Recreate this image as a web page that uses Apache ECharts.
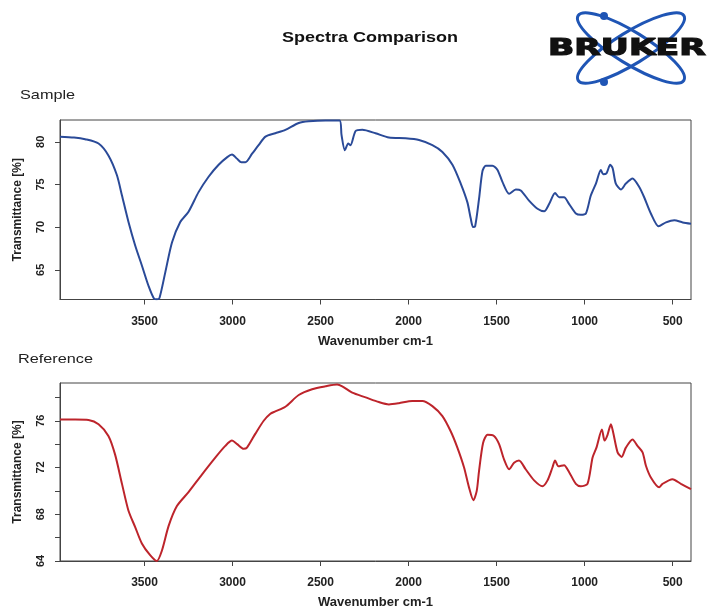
<!DOCTYPE html>
<html><head><meta charset="utf-8">
<script src="https://cdn.jsdelivr.net/npm/echarts@6/dist/echarts.min.js"></script>
<style>html,body{margin:0;padding:0;background:#fff}#c{width:707px;height:610px}</style>
</head><body><div id="c"></div>
<script>
// Sample spectrum (wavenumber cm-1, transmittance %)
const wnSample = [3980,3900,3837,3761,3705,3657,3628,3591,3553,3515,3477,3445,3430,3415,3382,3344,3297,3250,3193,3136,3079,3030,3003,2974,2950,2927,2889,2852,2813,2757,2700,2624,2567,2472,2392,2381,2362,2343,2330,2301,2263,2188,2112,2017,1941,1865,1808,1751,1704,1666,1647,1634,1622,1600,1581,1562,1524,1495,1467,1429,1391,1363,1316,1268,1230,1202,1168,1145,1117,1088,1050,1022,993,965,936,908,895,876,855,841,823,794,766,728,690,662,624,580,538,491,443,396];
const tSample = [80.6,80.5,80.3,79.8,78.4,76.1,73.7,70.6,67.85,65.5,63.1,61.6,61.55,61.7,64.7,68.2,70.6,71.8,74.1,75.9,77.3,78.2,78.5,78.0,77.6,77.6,78.6,79.6,80.6,81.0,81.4,82.2,82.4,82.5,82.5,80.8,79.0,79.8,79.6,81.26,81.4,81.0,80.5,80.4,80.2,79.6,78.8,77.3,75.1,72.9,71.0,70.0,70.1,73.3,76.5,77.2,77.2,76.7,75.3,73.9,74.4,74.3,73.1,72.15,71.85,72.7,74.0,73.5,73.5,72.7,71.6,71.45,71.6,73.7,75.1,76.7,76.2,76.3,77.3,76.9,75.1,74.4,75.1,75.7,74.7,73.5,71.6,70.1,70.55,70.8,70.55,70.4];
// Reference spectrum
const wnRef = [3980,3894,3818,3761,3705,3667,3628,3591,3553,3515,3468,3430,3401,3363,3316,3250,3174,3098,3041,3003,2974,2937,2918,2870,2823,2785,2757,2700,2624,2548,2472,2406,2377,2320,2244,2169,2112,2055,1979,1922,1865,1808,1761,1723,1685,1657,1632,1613,1600,1577,1552,1515,1486,1458,1429,1401,1373,1335,1287,1240,1211,1183,1168,1149,1117,1088,1050,1022,984,955,933,902,887,870,851,838,813,790,766,728,700,671,652,624,577,558,501,453,396];
const tRef = [76.1,76.1,76.06,75.7,74.7,73.1,70.6,68.3,66.9,65.5,64.5,64.0,64.9,67.0,68.7,69.9,71.4,72.85,73.85,74.3,74.0,73.6,73.7,74.9,76.0,76.6,76.8,77.2,78.2,78.7,78.95,79.1,78.95,78.4,78.0,77.6,77.4,77.5,77.7,77.7,77.25,76.4,75.1,73.7,72.0,70.3,69.2,70.0,71.7,74.1,74.8,74.7,74.0,72.7,71.85,72.4,72.6,71.85,70.9,70.4,70.9,72.0,72.6,72.1,72.2,71.6,70.6,70.4,70.6,72.85,73.7,75.25,74.3,74.8,75.7,75.0,73.3,72.9,73.7,74.4,73.85,73.3,72.15,71.15,70.3,70.6,71.0,70.6,70.15];
// Tick values
const xTicks = [3500,3000,2500,2000,1500,1000,500];
const ySampleTicks = [65,70,75,80];
const yRefTicks = [64,66,68,70,72,74,76,78];
const yRefLabels = [64,68,72,76];

const FONT = 'Liberation Sans';
const axisCol = '#444';
const labelStyle = {color:'#222', fontFamily:FONT, fontWeight:'bold', formatter: v => String(v)};

function xAxisCfg(gi){
  return {
    type:'value', gridIndex:gi, inverse:true, min:396, max:3980,
    name:'Wavenumber cm-1', nameLocation:'middle', nameGap:35,
    nameTextStyle:{color:'#222', fontFamily:FONT, fontWeight:'bold', fontSize:13},
    axisLine:{show:true, lineStyle:{color:axisCol, width:1}},
    axisTick:{show:true, length:5, lineStyle:{color:axisCol}, customValues:xTicks},
    axisLabel:Object.assign({fontSize:12, margin:16, customValues:xTicks}, labelStyle),
    splitLine:{show:false}
  };
}
function yAxisCfg(gi, min, max, ticks, labels){
  return {
    type:'value', gridIndex:gi, min:min, max:max,
    name:'Transmittance [%]', nameLocation:'middle', nameGap:36,
    nameTextStyle:{color:'#222', fontFamily:FONT, fontWeight:'bold', fontSize:12},
    axisLine:{show:true, lineStyle:{color:axisCol, width:1}},
    axisTick:{show:true, length:5, lineStyle:{color:axisCol}, customValues:ticks},
    axisLabel:Object.assign({fontSize:11, margin:14, rotate:90, customValues:labels}, labelStyle),
    splitLine:{show:false}
  };
}

const chart = echarts.init(document.getElementById('c'), null, {renderer:'canvas'});
chart.setOption({
  animation:false,
  backgroundColor:'#fff',
  grid:[
    {left:60, right:16, top:120, height:179.5, show:true, borderColor:axisCol, borderWidth:1, backgroundColor:'transparent'},
    {left:60, right:16, top:383, height:179, show:true, borderColor:axisCol, borderWidth:1, backgroundColor:'transparent'}
  ],
  xAxis:[xAxisCfg(0), xAxisCfg(1)],
  yAxis:[
    yAxisCfg(0, 61.52, 82.55, ySampleTicks, ySampleTicks),
    yAxisCfg(1, 64, 79.23, yRefTicks, yRefLabels)
  ],
  series:[
    {type:'line', xAxisIndex:0, yAxisIndex:0, showSymbol:false, smooth:0.25,
     lineStyle:{color:'#2a4a98', width:2}, data:wnSample.map((w,i)=>[w,tSample[i]])},
    {type:'line', xAxisIndex:1, yAxisIndex:1, showSymbol:false, smooth:0.25,
     lineStyle:{color:'#bd242b', width:2}, data:wnRef.map((w,i)=>[w,tRef[i]])}
  ],
  graphic:[
    {type:'text', x:370, y:38, scaleX:1.2, style:{text:'Spectra Comparison', fill:'#111', font:'bold 15px "Liberation Sans"', align:'center', verticalAlign:'middle'}},
    {type:'text', x:20, y:95, scaleX:1.25, style:{text:'Sample', fill:'#222', font:'13px "Liberation Sans"', align:'left', verticalAlign:'middle'}},
    {type:'text', x:18, y:359, scaleX:1.25, style:{text:'Reference', fill:'#222', font:'13px "Liberation Sans"', align:'left', verticalAlign:'middle'}},
    {type:'ellipse', x:631, y:48, rotation:-0.55, shape:{cx:0, cy:0, rx:62, ry:16}, style:{fill:'none', stroke:'#1f55b5', lineWidth:3}},
    {type:'ellipse', x:631, y:48, rotation:0.55, shape:{cx:0, cy:0, rx:62, ry:16}, style:{fill:'none', stroke:'#1f55b5', lineWidth:3}},
    {type:'circle', shape:{cx:604, cy:16, r:4}, style:{fill:'#1f55b5'}},
    {type:'circle', shape:{cx:604, cy:82, r:4}, style:{fill:'#1f55b5'}},
    {type:'text', x:548, y:49, scaleX:1.5, style:{text:'BRUKER', fill:'#111', stroke:'#111', lineWidth:1.2, font:'900 23px "DejaVu Sans"', align:'left', verticalAlign:'middle'}}
  ]
});
</script>
</body></html>
